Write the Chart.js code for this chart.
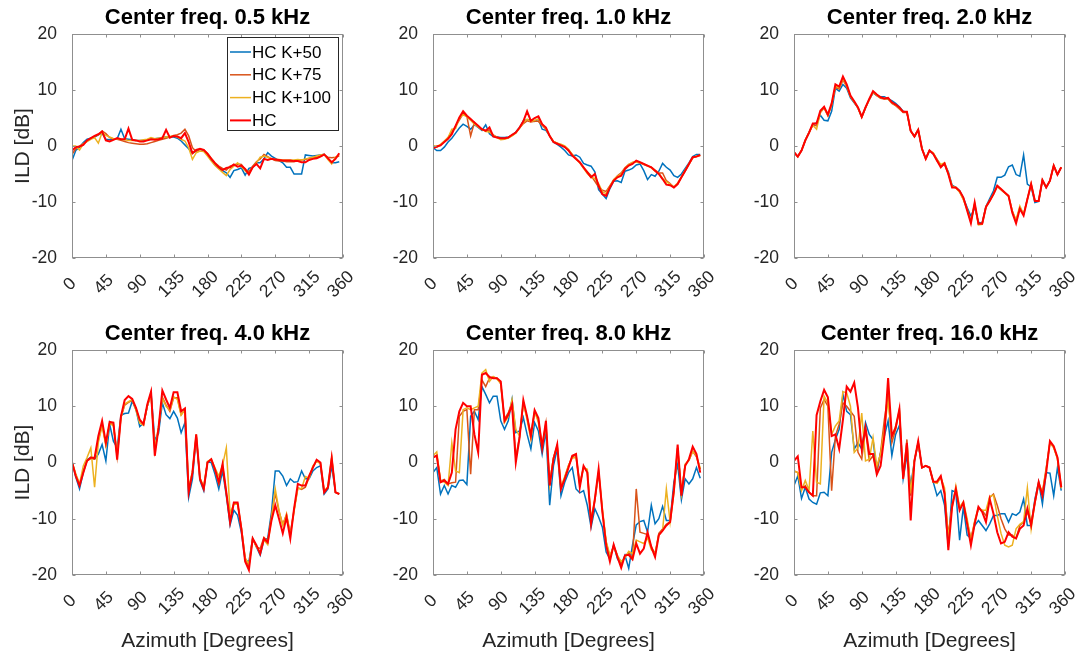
<!DOCTYPE html>
<html><head><meta charset="utf-8">
<script src="https://cdn.jsdelivr.net/npm/chart.js@4.4.1/dist/chart.umd.min.js"></script>
<style>
html,body{margin:0;padding:0;background:#fff;}
#wrap{position:relative;width:1085px;height:654px;overflow:hidden;background:#fff;}
canvas{position:absolute;}
</style></head><body><div id="wrap"></div>
<script>
// ---------- data ----------
const azimuth = [0,5,10,15,20,25,30,35,40,45,50,55,60,65,70,75,80,85,90,95,100,105,110,115,120,125,130,135,140,145,150,155,160,165,170,175,180,185,190,195,200,205,210,215,220,225,230,235,240,245,250,255,260,265,270,275,280,285,290,295,300,305,310,315,320,325,330,335,340,345,350,355];
const azimuthTicks = [0,45,90,135,180,225,270,315,360];
const ildTicks = [-20,-10,0,10,20];
const seriesNames = ['HC K+50','HC K+75','HC K+100','HC'];
const panelTitles = ['Center freq. 0.5 kHz','Center freq. 1.0 kHz','Center freq. 2.0 kHz','Center freq. 4.0 kHz','Center freq. 8.0 kHz','Center freq. 16.0 kHz'];

// 0.5 kHz
const f05_k50 = [-2.6,-0.8,-0.2,0.6,1.2,1.4,1.6,2.0,2.3,1.2,1.1,1.2,1.3,3.0,1.3,1.2,1.1,1.0,1.0,1.0,1.1,1.2,1.3,1.4,1.5,1.6,1.6,1.6,1.4,0.9,0.2,-0.5,-1.3,-0.9,-0.6,-0.8,-1.5,-2.5,-3.4,-4.0,-4.4,-4.8,-5.6,-4.4,-4.2,-3.9,-5.2,-4.0,-3.8,-3.0,-3.0,-2.3,-1.2,-1.8,-2.2,-2.6,-3.0,-3.8,-3.8,-5.0,-5.0,-5.0,-1.6,-1.7,-1.8,-1.7,-1.6,-1.5,-2.2,-3.0,-3.0,-2.8];
const f05_k75 = [-1.5,-0.5,0.0,0.4,0.9,1.3,1.7,2.0,2.7,2.2,1.5,1.3,1.2,1.0,0.8,0.6,0.5,0.4,0.3,0.3,0.4,0.6,0.8,1.0,1.2,1.4,1.6,1.9,2.0,2.3,3.0,1.8,-0.3,-1.0,-0.6,-0.7,-1.3,-2.2,-3.0,-3.6,-4.0,-4.3,-3.6,-3.4,-3.2,-3.3,-4.2,-4.6,-3.6,-2.8,-2.3,-1.5,-1.9,-2.3,-2.6,-2.7,-2.7,-2.8,-2.8,-2.8,-2.6,-2.5,-2.4,-2.2,-2.1,-2.0,-1.8,-1.6,-2.0,-2.1,-2.0,-1.8];
const f05_k100 = [0.0,0.0,-0.7,0.4,0.8,1.2,1.5,0.5,2.4,1.9,1.6,1.3,1.3,1.2,1.1,1.0,1.0,1.0,1.0,1.1,1.2,1.5,1.3,1.4,1.5,1.6,1.7,1.8,1.6,1.2,0.9,-0.3,-2.4,-1.2,-0.9,-1.0,-1.8,-2.7,-3.5,-4.1,-4.7,-5.3,-4.2,-3.6,-3.0,-3.7,-4.4,-5.0,-3.8,-3.0,-2.0,-1.8,-2.0,-2.3,-2.4,-2.4,-2.5,-2.5,-2.5,-2.5,-2.4,-2.5,-2.3,-2.2,-2.0,-1.8,-1.6,-1.5,-2.4,-3.2,-2.0,-1.6];
const f05_hc = [-0.8,-0.2,-0.1,0.2,1.0,1.4,1.8,2.1,2.6,1.0,0.8,1.1,1.4,1.2,1.2,3.1,1.1,1.0,0.8,0.8,1.0,1.2,1.1,1.2,1.4,2.9,1.5,1.8,1.7,1.4,2.3,0.7,-1.3,-0.7,-0.5,-0.7,-1.4,-2.3,-3.1,-3.8,-4.3,-3.9,-3.8,-3.3,-3.7,-3.5,-4.1,-5.1,-3.8,-3.2,-4.0,-2.3,-2.5,-2.3,-2.4,-2.5,-2.6,-2.6,-2.6,-2.7,-2.7,-2.9,-2.9,-2.5,-2.3,-2.2,-1.9,-1.5,-2.2,-2.9,-2.3,-1.3];

// 1.0 kHz
const f1_k50 = [-0.3,-0.8,-0.8,-0.2,0.7,1.4,2.3,3.2,3.9,3.5,3.0,3.8,3.3,2.8,3.8,2.2,1.7,1.6,1.5,1.5,1.6,1.9,2.5,3.3,4.5,4.7,4.7,4.4,4.8,3.0,2.8,1.8,0.7,0.3,-0.2,-0.8,-1.6,-1.8,-1.6,-2.0,-3.1,-3.4,-3.6,-4.6,-7.8,-8.6,-9.4,-7.6,-6.3,-6.2,-6.5,-4.5,-4.3,-4.0,-3.4,-3.2,-4.4,-6.0,-5.1,-5.4,-4.5,-3.1,-3.8,-4.3,-5.3,-5.6,-5.0,-4.0,-3.0,-1.9,-1.5,-1.5];
const f1_k75 = [-0.1,-0.2,0.2,0.8,1.5,2.5,3.5,4.6,5.8,5.3,1.8,4.2,3.4,2.9,2.8,2.7,2.0,1.6,1.3,1.3,1.5,1.9,2.4,3.2,4.0,4.5,4.3,4.4,4.4,3.7,3.0,1.8,0.8,0.5,0.2,-0.1,-0.7,-1.5,-2.2,-3.0,-3.9,-4.6,-5.3,-6.3,-7.3,-7.9,-8.1,-7.1,-6.1,-5.3,-4.8,-3.9,-3.3,-3.0,-2.8,-3.0,-3.3,-3.6,-3.8,-4.3,-4.8,-4.8,-6.2,-6.7,-7.4,-6.8,-5.6,-4.5,-3.3,-2.1,-1.9,-1.7];
const f1_k100 = [0.1,-0.1,0.3,0.9,1.5,3.0,3.1,5.0,5.6,5.2,4.6,3.9,3.4,3.0,2.6,2.5,1.9,1.5,1.1,1.2,1.4,1.8,2.3,3.2,4.2,4.8,4.4,4.6,4.8,3.9,3.1,1.8,0.8,0.5,0.3,0.0,-0.6,-1.5,-2.3,-3.0,-4.0,-4.9,-5.6,-5.8,-6.7,-8.2,-8.5,-7.2,-6.0,-5.4,-5.0,-4.0,-3.3,-2.9,-2.8,-3.0,-3.2,-3.5,-3.9,-4.5,-4.9,-5.8,-6.4,-6.8,-7.3,-6.6,-5.5,-4.3,-3.2,-2.1,-1.8,-1.7];
const f1_hc = [-0.4,-0.1,0.1,0.7,1.3,2.1,3.6,5.1,6.2,5.4,4.8,4.2,3.6,3.0,2.7,3.3,1.7,1.5,1.4,1.4,1.5,2.0,2.4,3.3,4.4,6.2,4.5,5.0,5.3,3.9,3.3,1.8,0.7,0.4,0.1,-0.2,-0.8,-1.7,-2.3,-2.9,-3.8,-4.7,-5.6,-5.0,-7.1,-8.6,-8.9,-7.4,-6.2,-5.6,-5.3,-4.1,-3.5,-3.2,-2.6,-2.9,-3.2,-3.5,-3.8,-4.4,-5.0,-5.9,-6.9,-7.0,-7.4,-6.8,-5.6,-4.4,-3.2,-2.0,-1.9,-1.6];

// 2.0 kHz
const f2_k50 = [-1.1,-1.9,-0.8,1.0,2.4,3.9,4.1,5.5,4.6,4.5,6.2,10.3,9.8,11.0,10.3,8.6,7.7,6.8,5.2,6.9,8.3,9.5,9.0,8.8,8.8,8.4,8.1,7.6,7.0,6.2,6.0,2.7,1.7,2.9,-0.5,-2.2,-0.8,-1.4,-2.4,-3.5,-3.2,-4.6,-7.0,-7.4,-8.0,-9.3,-11.0,-12.5,-11.0,-13.6,-13.8,-10.8,-9.4,-8.0,-5.6,-5.6,-5.2,-3.7,-3.4,-5.1,-5.4,-1.6,-6.8,-7.3,-10.1,-9.9,-6.1,-7.4,-6.2,-3.5,-5.1,-3.8];
const f2_k75 = [-1.1,-1.9,-0.8,1.0,2.4,3.8,3.6,6.0,6.8,5.4,7.3,10.5,10.2,11.8,10.6,8.8,7.8,6.8,5.1,6.8,8.3,9.6,9.0,8.5,8.4,8.4,7.6,7.2,6.6,6.0,6.0,2.7,1.7,2.9,-0.5,-2.3,-0.8,-1.4,-2.7,-3.6,-3.3,-5.0,-7.2,-7.5,-8.2,-9.5,-11.2,-13.4,-10.4,-13.9,-13.8,-10.8,-9.7,-8.6,-7.2,-7.8,-8.4,-9.0,-11.6,-13.4,-11.0,-12.2,-9.5,-6.8,-9.8,-9.8,-6.1,-7.4,-6.2,-3.5,-5.1,-3.8];
const f2_k100 = [-1.1,-1.9,-0.8,1.0,2.4,3.7,3.0,6.0,6.9,5.5,7.4,10.7,10.4,12.0,10.8,8.9,7.9,6.8,5.2,6.9,8.3,9.6,9.1,8.6,8.5,8.5,7.7,7.3,6.8,6.1,6.1,2.7,1.7,2.9,-0.5,-2.3,-0.8,-1.2,-2.4,-3.3,-3.0,-4.8,-7.2,-7.4,-8.2,-9.6,-11.4,-13.6,-10.2,-14.1,-14.0,-10.9,-9.8,-8.6,-7.2,-7.8,-8.4,-8.9,-11.6,-13.2,-10.7,-12.2,-9.5,-6.8,-9.8,-9.8,-6.1,-7.4,-6.2,-3.5,-5.1,-3.8];
const f2_hc = [-1.1,-1.9,-0.8,1.0,2.4,4.0,4.0,6.3,7.0,5.6,7.6,11.0,10.6,12.4,11.0,9.0,8.0,6.9,5.2,6.9,8.4,9.8,9.2,8.7,8.5,8.6,7.8,7.4,6.9,6.1,6.1,2.7,1.7,2.9,-0.5,-2.3,-0.8,-1.4,-2.6,-3.8,-3.1,-5.0,-7.4,-7.4,-8.0,-9.2,-11.5,-13.8,-10.1,-13.9,-13.9,-10.9,-9.8,-8.6,-7.1,-7.7,-8.3,-8.9,-11.9,-13.8,-11.2,-12.4,-9.5,-6.8,-9.8,-9.8,-6.1,-7.4,-6.2,-3.5,-5.1,-3.8];

// 4.0 kHz
const f4_k50 = [0.1,-2.6,-4.7,-1.8,0.5,0.9,0.6,1.5,3.2,0.3,6.8,3.8,2.6,8.4,8.7,8.8,10.9,9.4,6.4,7.0,10.0,12.4,4.0,5.2,10.6,8.5,7.8,9.1,7.9,5.3,7.1,-6.2,-2.9,4.7,-3.2,-5.0,0.1,0.0,-2.1,-4.7,-1.5,-5.9,-11.1,-8.5,-9.4,-12.4,-17.4,-17.6,-13.5,-15.0,-16.5,-13.8,-13.5,-8.8,-1.5,-1.5,-2.4,-4.1,-2.9,-3.5,-3.4,-1.5,-2.9,-2.9,-1.5,-0.9,-0.6,-5.6,-4.7,-0.6,-5.3,-5.6];
const f4_k75 = [0.1,-2.2,-3.9,-1.5,0.3,0.7,0.6,4.0,6.8,3.2,6.9,6.8,1.0,8.0,10.2,10.7,11.0,9.6,7.4,6.8,10.0,12.2,2.0,6.0,11.6,10.2,9.1,11.5,11.5,8.5,9.4,-4.8,-1.8,4.8,-2.9,-4.5,0.0,0.5,-1.4,-3.8,-0.5,-5.5,-10.4,-7.2,-7.3,-11.6,-17.0,-18.5,-13.6,-15.0,-15.3,-13.3,-14.0,-9.5,-5.5,-8.7,-11.0,-9.3,-12.6,-8.4,-4.5,-4.8,-4.4,-2.6,-0.8,0.3,-0.1,-5.1,-4.5,0.8,-5.3,-5.6];
const f4_k100 = [0.1,-2.0,-3.8,-0.6,0.9,2.6,-4.4,3.6,6.5,3.0,7.0,6.5,1.5,8.0,10.4,10.8,11.2,9.3,7.0,6.6,10.1,12.0,2.5,6.4,11.4,10.0,9.3,11.7,11.2,8.4,9.4,-4.5,-1.6,5.0,-2.7,-4.3,0.2,0.6,-1.0,-2.4,-0.5,2.6,-9.0,-7.4,-7.4,-11.6,-17.0,-18.0,-13.5,-15.0,-16.0,-13.8,-14.6,-10.0,-4.7,-8.5,-11.2,-9.1,-12.9,-8.7,-4.6,-4.6,-2.5,-2.8,-0.6,0.2,-0.2,-5.1,-4.3,0.8,-5.3,-5.6];
const f4_hc = [0.1,-2.4,-4.1,-1.8,0.3,0.9,0.8,4.7,7.4,3.5,7.2,7.1,0.5,8.2,11.1,11.8,11.3,9.7,7.6,6.8,10.3,12.6,1.2,6.2,12.8,11.2,9.7,12.5,12.5,9.1,9.6,-5.3,-1.8,5.0,-2.9,-4.7,0.0,0.6,-1.2,-3.5,-0.3,-5.3,-10.6,-7.1,-7.1,-11.8,-17.6,-19.1,-13.5,-14.7,-16.2,-13.5,-14.2,-10.3,-7.6,-10.0,-12.6,-9.7,-13.5,-8.2,-3.8,-4.1,-4.1,-2.4,-0.9,0.5,0.0,-5.3,-4.4,0.8,-5.3,-5.6];

// 8.0 kHz
const f8_k50 = [-1.8,-0.9,-5.6,-4.1,-5.6,-4.1,-4.4,-3.2,-3.1,-3.9,8.2,9.1,7.6,13.5,12.1,10.6,11.8,11.8,7.4,5.9,7.4,11.2,5.3,5.6,8.0,5.0,2.4,7.1,5.6,1.5,5.6,-7.6,-0.6,2.4,-5.9,-3.5,-1.8,-0.9,-4.7,-5.4,-5.0,-7.6,-11.5,-8.2,-9.7,-11.5,-15.9,-17.1,-14.7,-17.1,-18.2,-16.5,-18.8,-14.7,-11.1,-10.5,-10.3,-12.4,-7.6,-10.9,-10.0,-7.8,-10.3,-10.3,-3.5,-0.3,-6.6,-2.9,-3.8,-2.9,-0.9,-2.8];
const f8_k75 = [0.8,1.3,-3.3,-3.0,-3.8,-3.6,-3.5,8.2,9.1,9.4,-2.1,9.4,9.4,14.7,13.5,15.0,15.2,15.0,14.0,7.8,8.8,10.6,1.0,4.6,10.6,8.0,5.0,9.0,7.5,3.0,7.0,-3.8,0.8,3.0,-4.5,-2.7,-0.6,1.0,1.3,-4.0,-0.8,-1.6,-10.5,-6.8,-1.8,-8.6,-14.2,-16.8,-14.8,-16.5,-18.0,-16.8,-16.0,-17.0,-4.7,-12.4,-12.6,-12.8,-15.0,-16.2,-12.6,-11.8,-11.0,-10.5,-4.8,2.6,-5.5,-0.4,0.4,2.0,1.0,-1.2];
const f8_k100 = [1.2,1.9,-3.2,-3.5,-4.1,3.5,-1.5,-1.8,9.4,9.7,9.4,9.7,10.0,15.9,16.5,14.4,15.3,14.8,14.1,7.1,8.2,11.2,5.9,4.7,10.6,7.6,4.1,9.1,7.1,2.9,6.5,-3.8,0.8,2.9,-4.3,-2.5,-0.5,0.8,0.9,-3.8,-0.9,-1.2,-10.2,-6.5,-1.5,-8.2,-14.0,-16.5,-15.0,-16.6,-17.6,-16.9,-15.8,-16.2,-13.8,-14.1,-14.4,-13.4,-15.5,-16.2,-12.9,-12.1,-4.7,-10.6,-5.5,2.6,-5.4,-0.3,0.4,2.0,1.2,-1.0];
const f8_hc = [0.9,1.2,-3.5,-3.2,-3.8,-1.8,5.9,9.1,10.6,10.0,10.0,5.0,1.8,15.6,15.9,15.2,15.0,15.0,14.4,7.4,8.5,10.3,0.0,4.4,11.1,8.2,4.7,9.3,7.9,2.6,7.4,-4.1,0.6,3.2,-4.7,-2.9,-0.9,1.2,1.5,-4.4,-0.6,-1.8,-10.9,-6.5,-1.2,-8.8,-14.7,-17.6,-14.6,-16.8,-18.7,-16.5,-16.4,-17.2,-14.4,-16.2,-15.3,-12.4,-15.0,-16.8,-12.9,-12.1,-11.2,-10.6,-5.0,3.2,-5.9,-0.6,0.6,2.8,1.5,-1.8];

// 16.0 kHz
const f16_k50 = [-4.1,-2.4,-6.4,-4.4,-6.5,-7.1,-7.4,-5.4,-5.3,-5.9,1.8,4.1,5.9,12.1,9.1,8.5,2.4,3.5,2.4,7.1,5.0,4.1,-1.8,1.8,4.7,7.4,1.2,5.0,6.6,-2.9,1.2,-4.1,0.3,3.5,-0.9,-0.6,-0.9,-3.5,-5.9,-5.0,-7.6,-15.0,-5.0,-5.3,-13.8,-7.9,-12.9,-13.5,-11.2,-10.3,-11.2,-12.1,-10.9,-9.4,-9.4,-9.1,-9.1,-10.6,-9.1,-9.4,-8.8,-6.5,-11.2,-11.2,-6.5,-3.5,-7.4,-1.8,-1.9,-5.9,-0.9,-5.0];
const f16_k75 = [-1.5,-1.8,-4.7,-4.1,-5.3,-5.9,-5.9,9.7,11.2,10.0,-5.0,4.7,6.8,10.6,10.0,9.1,8.2,1.8,0.6,5.9,0.3,1.2,-1.5,1.8,7.6,12.1,3.5,5.9,9.4,-2.9,4.1,-5.9,0.3,3.6,-0.9,-0.6,-0.9,-3.4,-3.6,-2.6,-5.2,-13.0,-7.5,-4.9,-8.2,-7.4,-10.5,-13.5,-10.6,-8.2,-8.5,-9.5,-6.2,-5.6,-7.6,-10.0,-11.8,-12.9,-12.9,-13.5,-11.2,-10.6,-8.8,-10.8,-7.2,-3.8,-5.3,-1.0,3.5,2.7,0.8,-4.5];
const f16_k100 = [-1.5,-1.8,-5.0,-3.2,-5.0,5.6,-3.5,-3.8,11.8,10.6,5.0,6.5,7.4,12.6,12.4,10.0,1.8,2.6,8.8,0.3,0.6,4.4,-0.6,1.5,6.0,11.0,4.5,6.5,9.0,-2.5,3.5,-5.5,0.5,3.5,-0.9,-0.6,-0.9,-3.5,-3.7,-2.7,-4.5,-13.5,-8.0,-4.2,-7.9,-7.0,-10.0,-14.0,-10.4,-8.0,-8.5,-8.5,-6.0,-5.8,-9.4,-12.6,-14.7,-15.0,-14.7,-11.8,-11.0,-10.5,-4.5,-11.8,-7.0,-3.5,-5.5,-1.2,3.6,2.6,0.6,-4.6];
const f16_hc = [0.3,1.1,-4.4,-4.4,-5.3,-5.9,8.4,10.9,12.9,11.6,4.7,5.0,2.4,7.6,13.5,12.6,14.2,9.7,2.4,6.2,1.5,1.5,-2.1,-0.6,4.7,15.0,4.7,6.2,9.5,-2.9,3.5,-10.3,0.3,3.8,-0.9,-0.6,-0.9,-3.4,-3.4,-2.4,-5.6,-15.6,-7.9,-4.7,-8.5,-7.1,-10.9,-14.7,-10.9,-7.9,-8.8,-10.6,-6.5,-9.1,-12.4,-14.4,-14.1,-12.4,-13.2,-13.5,-11.8,-11.2,-8.2,-11.2,-7.1,-3.5,-5.9,-1.8,3.8,2.9,0.9,-4.4];

// ---------- presentation ----------
const FONT = '"Liberation Sans", Arial, Helvetica, sans-serif';
const COLORS = ['#0072BD','#D95319','#EDB120','#FF0000'];
const WIDTHS = [1.5,1.5,1.5,2];
const panels = [
  [f05_k50,f05_k75,f05_k100,f05_hc],
  [f1_k50,f1_k75,f1_k100,f1_hc],
  [f2_k50,f2_k75,f2_k100,f2_hc],
  [f4_k50,f4_k75,f4_k100,f4_hc],
  [f8_k50,f8_k75,f8_k100,f8_hc],
  [f16_k50,f16_k75,f16_k100,f16_hc]
];
const colLeft = [72,433,794], rowTop = [34,350], areaW = 271, areaH = [224,225];

const boxPlugin = {
  id: 'matlabBox',
  afterDraw(chart, args, opts) {
    const {ctx, chartArea: ca, scales: {x, y}} = chart;
    ctx.save();
    const l = Math.round(ca.left) + 0.5, r = Math.round(ca.right) - 0.5;
    const t = Math.round(ca.top) + 0.5, b = Math.round(ca.bottom) - 0.5;
    ctx.strokeStyle = '#8f8f8f'; ctx.lineWidth = 1;
    ctx.strokeRect(l, t, r - l, b - t);
    const TL = 3;
    ctx.beginPath();
    x.ticks.forEach(tk => {
      const px = Math.round(x.getPixelForValue(tk.value)) + 0.5;
      ctx.moveTo(px, b); ctx.lineTo(px, b - TL);
      ctx.moveTo(px, t); ctx.lineTo(px, t + TL);
    });
    y.ticks.forEach(tk => {
      const py = Math.round(y.getPixelForValue(tk.value)) + 0.5;
      ctx.moveTo(l, py); ctx.lineTo(l + TL, py);
      ctx.moveTo(r, py); ctx.lineTo(r - TL, py);
    });
    ctx.stroke();
    // rotated x tick labels (centred on tick, 45 degrees)
    ctx.fillStyle = '#262626';
    ctx.font = '17.5px ' + FONT;
    ctx.textAlign = 'center'; ctx.textBaseline = 'middle';
    x.ticks.forEach(tk => {
      const px = x.getPixelForValue(tk.value);
      ctx.save();
      ctx.translate(px - 2, ca.bottom + 26.5);
      ctx.rotate(-Math.PI / 4);
      ctx.fillText(String(tk.value), 0, 0);
      ctx.restore();
    });
    if (opts && opts.legend) {
      const lx = Math.round(ca.left + 155), ly = Math.round(ca.top + 3), lw = 111, lh = 93;
      ctx.fillStyle = '#fff'; ctx.fillRect(lx, ly, lw, lh);
      ctx.strokeStyle = '#262626'; ctx.lineWidth = 1;
      ctx.strokeRect(lx + 0.5, ly + 0.5, lw, lh);
      ctx.font = '17px ' + FONT; ctx.textAlign = 'left'; ctx.textBaseline = 'middle';
      chart.data.datasets.forEach((ds, i) => {
        const yy = ly + 15 + i * 22.8;
        ctx.strokeStyle = ds.borderColor; ctx.lineWidth = ds.borderWidth;
        ctx.beginPath(); ctx.moveTo(lx + 3, yy); ctx.lineTo(lx + 24, yy); ctx.stroke();
        ctx.fillStyle = '#000';
        ctx.fillText(ds.label, lx + 25, yy + 1);
      });
    }
    ctx.restore();
  }
};

const wrap = document.getElementById('wrap');
panels.forEach((series, idx) => {
  const c = idx % 3, r = Math.floor(idx / 3);
  const cv = document.createElement('canvas');
  const W = 361, Hc = r === 0 ? 316 : 338;
  cv.width = W; cv.height = Hc;
  cv.style.left = (colLeft[c] - 72) + 'px';
  cv.style.top = (rowTop[r] - 34) + 'px';
  cv.style.width = W + 'px'; cv.style.height = Hc + 'px';
  wrap.appendChild(cv);
  const xAxisH = Hc - 34 - areaH[r];
  new Chart(cv, {
    type: 'line',
    data: {
      datasets: seriesNames.map((name, i) => ({
        label: name,
        data: azimuth.map((a, j) => ({x: a, y: series[i][j]})),
        borderColor: COLORS[i],
        backgroundColor: COLORS[i],
        borderWidth: WIDTHS[i],
        pointRadius: 0,
        fill: false,
        tension: 0,
        order: 4 - i
      }))
    },
    options: {
      responsive: false,
      animation: false,
      devicePixelRatio: 1,
      events: [],
      layout: {padding: {top: 0, right: 18, bottom: 0, left: 0}},
      plugins: {
        legend: {display: false},
        tooltip: {enabled: false},
        title: {
          display: true, text: panelTitles[idx], fullSize: false, color: '#000',
          font: {family: FONT, size: 22, weight: 'bold'},
          padding: {top: 4.6, bottom: 3.0}
        },
        matlabBox: {legend: idx === 0}
      },
      scales: {
        x: {
          type: 'linear', min: 0, max: 360,
          afterBuildTicks: s => { s.ticks = azimuthTicks.map(v => ({value: v})); },
          afterFit: s => { s.height = xAxisH; },
          grid: {display: false}, border: {display: false},
          ticks: {display: false, autoSkip: false},
          title: {display: r === 1, text: 'Azimuth [Degrees]', color: '#262626',
                  font: {family: FONT, size: 21}, padding: {top: 0, bottom: 0.4}}
        },
        y: {
          min: -20, max: 20,
          afterBuildTicks: s => { s.ticks = ildTicks.map(v => ({value: v})); },
          afterFit: s => { s.width = 72; },
          grid: {display: false}, border: {display: false},
          ticks: {color: '#262626', font: {family: FONT, size: 17.5}, padding: 7},
          title: {display: c === 0, text: 'ILD [dB]', color: '#262626',
                  font: {family: FONT, size: 21}, padding: {top: 10.4, bottom: 0}}
        }
      }
    },
    plugins: [boxPlugin]
  });
});
</script>
</body></html>
